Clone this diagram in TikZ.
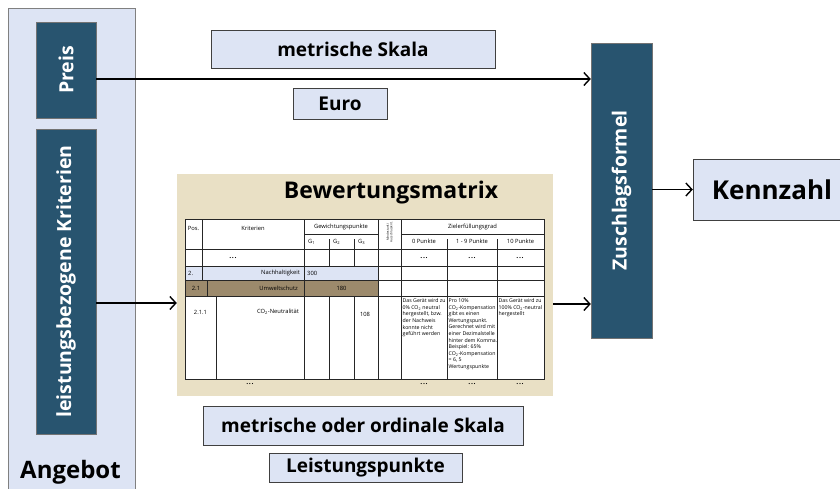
\documentclass[tikz,border=0pt]{standalone}
\usepackage{fontspec}
\setmainfont{Open Sans}
\usetikzlibrary{arrows.meta}

\definecolor{dunkelblau}{HTML}{28546F}
\definecolor{hellblau}{HTML}{DDE4F4}
\definecolor{sand}{HTML}{E9E0C5}
\definecolor{braun}{HTML}{9C8A6C}

\tikzset{
  dunkelbox/.style={draw=black!55, fill=dunkelblau, text=white, inner sep=0pt,
    font=\fontsize{19.5}{22}\selectfont\bfseries},
  hellbox/.style={draw=black!75, fill=hellblau, inner sep=0pt,
    font=\fontsize{19}{22}\selectfont\bfseries},
  pfeil/.style={line width=1.4pt, -{Straight Barb[length=6pt,width=13pt,line width=1.4pt]}},
  klein/.style={font=\fontsize{5.2}{6.6}\selectfont, inner sep=0pt, text=black},
  kopf/.style={font=\fontsize{5.8}{7}\selectfont, inner sep=0pt, text=black},
  punkte/.style={font=\fontsize{7}{8}\selectfont\bfseries, inner sep=0pt},
  gitter/.style={line width=0.9pt, draw=black!85},
}

\begin{document}
\begin{tikzpicture}[x=1pt,y=-1pt]
\useasboundingbox (0,0) rectangle (840,488);

% Angebot
\node[draw=black!50, fill=hellblau, minimum width=127pt, minimum height=490pt,
  anchor=north west, inner sep=0pt] (angebot) at (8,8) {};
\node[font=\fontsize{24}{26}\selectfont\bfseries, anchor=base] (angebottext) at (70.5,478) {Angebot};
\node[dunkelbox, minimum width=60pt, minimum height=96pt] (preis) at (66,70) {\rotatebox{90}{Preis}};
\node[dunkelbox, minimum width=60pt, minimum height=305pt] (kriterien) at (66,281.5)
  {\rotatebox{90}{leistungsbezogene Kriterien}};

% Skalen
\node[hellbox, minimum width=284pt, minimum height=38pt] (skala) at (353,49) {metrische Skala};
\node[hellbox, minimum width=94pt, minimum height=31pt] (euro) at (340,103.5) {Euro};
\node[hellbox, minimum width=320pt, minimum height=39pt] (ordinal) at (363,425.5) {metrische oder ordinale Skala};
\node[hellbox, minimum width=193pt, minimum height=29pt] (lpunkte) at (365.5,467.5) {Leistungspunkte};

% Zuschlagsformel und Kennzahl
\node[dunkelbox, minimum width=61pt, minimum height=295pt] (zuschlag) at (621.5,190.5)
  {\rotatebox{90}{Zuschlagsformel}};
\node[hellbox, minimum width=158pt, minimum height=61pt, font=\fontsize{26}{28}\selectfont\bfseries]
  (kennzahl) at (772,189.5) {Kennzahl};

% Bewertungsmatrix
\node[fill=sand, minimum width=376pt, minimum height=222pt, inner sep=0pt] (bewertung) at (365,285) {};
\node[font=\fontsize{23}{26}\selectfont\bfseries] (titel) at (391,193) {Bewertungsmatrix};

\fill[white] (185,219) rectangle (544,379);
\fill[hellblau] (185,266) rectangle (378,280);
\fill[braun] (185,280) rectangle (378,296);
\begin{scope}[gitter]
  \draw (185,219) rectangle (544,379);
  \foreach \y in {249,266,280,296} \draw (185,\y) -- (544,\y);
  \foreach \x in {304,378,401} \draw (\x,219) -- (\x,379);
  \draw (304,234) -- (378,234) (401,234) -- (544,234);
  \foreach \x in {329,354,447,497} \draw (\x,239) -- (\x,249);
  \foreach \x in {447,497} \draw (\x,249) -- (\x,379);
  \foreach \x in {329,354} \draw (\x,249) -- (\x,266) (\x,296) -- (\x,379);
  \draw (202,219) -- (202,280) (207,280) -- (207,296) (216,296) -- (216,379);
\end{scope}

% Kopfzeile
\node[kopf] (pos) at (193.5,228) {Pos.};
\node[kopf] (krit) at (253,228) {Kriterien};
\node[kopf] (gew) at (341,226.5) {Gewichtungspunkte};
\foreach \x/\i in {308/1,333/2,358/3}
  \node[kopf, anchor=west] (g\i) at (\x,241.5) {G\textsubscript{\i}};
\node[klein, rotate=90, align=center, font=\fontsize{3}{3.4}\selectfont] (mindest) at (389.5,232)
  {Mindestanf./\\Ausschlusskrit.};
\node[kopf] (ziel) at (472.5,226.5) {Zielerfüllungsgrad};
\node[kopf] (p0) at (424,241.5) {0 Punkte};
\node[kopf] (p19) at (472,241.5) {1 - 9 Punkte};
\node[kopf] (p10) at (520.5,241.5) {10 Punkte};

% Zeilen
\foreach \x in {233,424,472,520}
  \node[punkte] at (\x,258) {.\kern0.7pt.\kern0.7pt.};
\node[kopf, anchor=west] (z2) at (188,273) {2.};
\node[kopf, anchor=east] (nachhalt) at (300,273) {Nachhaltigkeit};
\node[kopf, anchor=west] (w300) at (307,273) {300};
\node[kopf] (z21) at (196,288) {2.1};
\node[kopf, anchor=east] (umwelt) at (298,288) {Umweltschutz};
\node[kopf] (w180) at (341.5,288) {180};
\node[kopf] (z211) at (200.5,312) {2.1.1};
\node[kopf, anchor=east] (co2) at (299,312) {CO\textsubscript{2}-Neutralität};
\node[kopf] (w108) at (365,314) {108};
\node[klein, anchor=north west, align=left] (t0) at (402.5,298.5)
  {Das Gerät wird zu\\0\% CO\textsubscript{2} neutral\\hergestellt, bzw.\\der Nachweis\\konnte nicht\\geführt werden};
\node[klein, anchor=north west, align=left] (t19) at (448.5,298.5)
  {Pro 10\%\\CO\textsubscript{2}-Kompensation\\gibt es einen\\Wertungspunkt.\\Gerechnet wird mit\\einer Dezimalstelle\\hinter dem Komma.\\Beispiel: 65\%\\CO\textsubscript{2}-Kompensation\\= 6, 5\\Wertungspunkte};
\node[klein, anchor=north west, align=left] (t10) at (498.5,298.5)
  {Das Gerät wird zu\\100\% CO\textsubscript{2}-neutral\\hergestellt};
\foreach \x in {250,424,472,520}
  \node[punkte] at (\x,384) {.\kern0.7pt.\kern0.7pt.};

% Pfeile
\draw[pfeil] ([yshift=-9pt]preis.east) -- ([yshift=-9pt]preis.east -| zuschlag.west);
\draw[pfeil] ([yshift=-21.5pt]kriterien.east) -- ([yshift=-21.5pt]kriterien.east -| bewertung.west);
\draw[pfeil] ([yshift=-19pt]bewertung.east) -- ([yshift=-19pt]bewertung.east -| zuschlag.west);
\draw[pfeil] (zuschlag.east |- kennzahl.west) -- (kennzahl.west);
\end{tikzpicture}
\end{document}
